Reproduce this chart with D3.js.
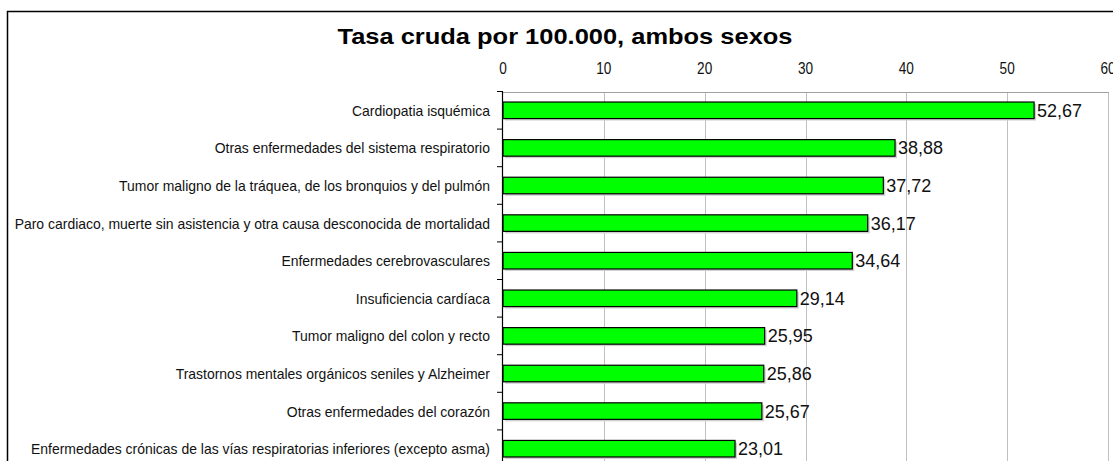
<!DOCTYPE html>
<html>
<head>
<meta charset="utf-8">
<script src="https://cdn.jsdelivr.net/npm/d3@7"></script>
<style>
  body { margin: 0; background: #fff; }
  svg { display: block; }
</style>
</head>
<body>
<script>
// Datos
const causas = [
  "Cardiopatia isquémica",
  "Otras enfermedades del sistema respiratorio",
  "Tumor maligno de la tráquea, de los bronquios y del pulmón",
  "Paro cardiaco, muerte sin asistencia y otra causa desconocida de mortalidad",
  "Enfermedades cerebrovasculares",
  "Insuficiencia cardíaca",
  "Tumor maligno del colon y recto",
  "Trastornos mentales orgánicos seniles y Alzheimer",
  "Otras enfermedades del corazón",
  "Enfermedades crónicas de las vías respiratorias inferiores (excepto asma)"
];
const tasas = [52.67, 38.88, 37.72, 36.17, 34.64, 29.14, 25.95, 25.86, 25.67, 23.01];
const ticksX = [0, 10, 20, 30, 40, 50, 60];

const width = 1113;
const height = 461;
const font = "'Liberation Sans', Arial, sans-serif";

const svg = d3.select("body")
  .append("svg")
  .attr("width", width)
  .attr("height", height);

// comprime el texto a lo ancho (el original esta algo estrecho)
function estrechar(sel, k) {
  sel.each(function () {
    const w = this.getComputedTextLength();
    d3.select(this)
      .attr("textLength", w * k)
      .attr("lengthAdjust", "spacingAndGlyphs");
  });
}

// marco exterior (se sale de la imagen por abajo y por la derecha)
svg.append("rect")
  .attr("x", 7.5).attr("y", 11.5)
  .attr("width", 1200).attr("height", 600)
  .attr("fill", "none")
  .attr("stroke", "#000")
  .attr("stroke-width", 1.5);

// titulo
svg.append("text")
  .attr("x", 565).attr("y", 44)
  .attr("text-anchor", "middle")
  .attr("font-family", font)
  .attr("font-weight", "bold")
  .attr("font-size", "22px")
  .attr("textLength", 455)
  .attr("lengthAdjust", "spacingAndGlyphs")
  .text("Tasa cruda por 100.000, ambos sexos");

const x = d3.scaleLinear().domain([0, 60]).range([503, 1108]);
const y = d3.scaleBand().domain(causas).range([91.5, 467.5]).paddingInner(0.56).paddingOuter(0.28);

// lineas de cuadricula
svg.selectAll("line.grid")
  .data(ticksX.slice(1))
  .enter()
  .append("line")
  .attr("class", "grid")
  .attr("x1", d => Math.round(x(d)) + 0.5)
  .attr("x2", d => Math.round(x(d)) + 0.5)
  .attr("y1", 92)
  .attr("y2", height)
  .attr("stroke", "#c0c0c0");

// borde superior del area
svg.append("line")
  .attr("x1", x(0)).attr("x2", x(60) + 1)
  .attr("y1", 92.5).attr("y2", 92.5)
  .attr("stroke", "#a0a0a0");

// etiquetas del eje superior
svg.selectAll("text.tick")
  .data(ticksX)
  .enter()
  .append("text")
  .attr("class", "tick")
  .attr("x", d => x(d))
  .attr("y", 74)
  .attr("text-anchor", "middle")
  .attr("font-family", font)
  .attr("font-size", "16px")
  .attr("fill", "#111")
  .text(d => d)
  .call(estrechar, 0.85);

// sombra de las barras
svg.selectAll("rect.sombra")
  .data(tasas)
  .enter()
  .append("rect")
  .attr("class", "sombra")
  .attr("x", x(0) + 2)
  .attr("y", (d, i) => y(causas[i]) + 2)
  .attr("width", d => x(d) - x(0))
  .attr("height", y.bandwidth())
  .attr("fill", "#d0d0d0");

// barras
svg.selectAll("rect.barra")
  .data(tasas)
  .enter()
  .append("rect")
  .attr("class", "barra")
  .attr("x", x(0))
  .attr("y", (d, i) => y(causas[i]))
  .attr("width", d => x(d) - x(0))
  .attr("height", y.bandwidth())
  .attr("fill", "#00ff00")
  .attr("stroke", "#000")
  .attr("stroke-width", 1.2);

// valores
svg.selectAll("text.valor")
  .data(tasas)
  .enter()
  .append("text")
  .attr("class", "valor")
  .attr("x", d => x(d) + 3)
  .attr("y", (d, i) => y(causas[i]) + y.bandwidth() / 2)
  .attr("dy", "0.36em")
  .attr("font-family", font)
  .attr("font-size", "18px")
  .attr("fill", "#111")
  .text(d => d.toFixed(2).replace(".", ","));

// eje vertical con marcas entre categorias
const yAxis = svg.append("g");
yAxis.append("line")
  .attr("x1", x(0) - 0.5).attr("x2", x(0) - 0.5)
  .attr("y1", 91.5).attr("y2", height)
  .attr("stroke", "#000")
  .attr("stroke-width", 1.2);
const cortes = d3.range(causas.length + 1).map(i => 91.5 + i * y.step());
yAxis.selectAll("line.marca")
  .data(cortes)
  .enter()
  .append("line")
  .attr("class", "marca")
  .attr("x1", x(0) - 6).attr("x2", x(0))
  .attr("y1", d => d).attr("y2", d => d)
  .attr("stroke", "#000");

// etiquetas de categorias
svg.selectAll("text.causa")
  .data(causas)
  .enter()
  .append("text")
  .attr("class", "causa")
  .attr("x", 490)
  .attr("y", d => y(d) + y.bandwidth() / 2)
  .attr("dy", "0.36em")
  .attr("text-anchor", "end")
  .attr("font-family", font)
  .attr("font-size", "15px")
  .attr("fill", "#111")
  .text(d => d)
  .call(estrechar, 0.93);
</script>
</body>
</html>
